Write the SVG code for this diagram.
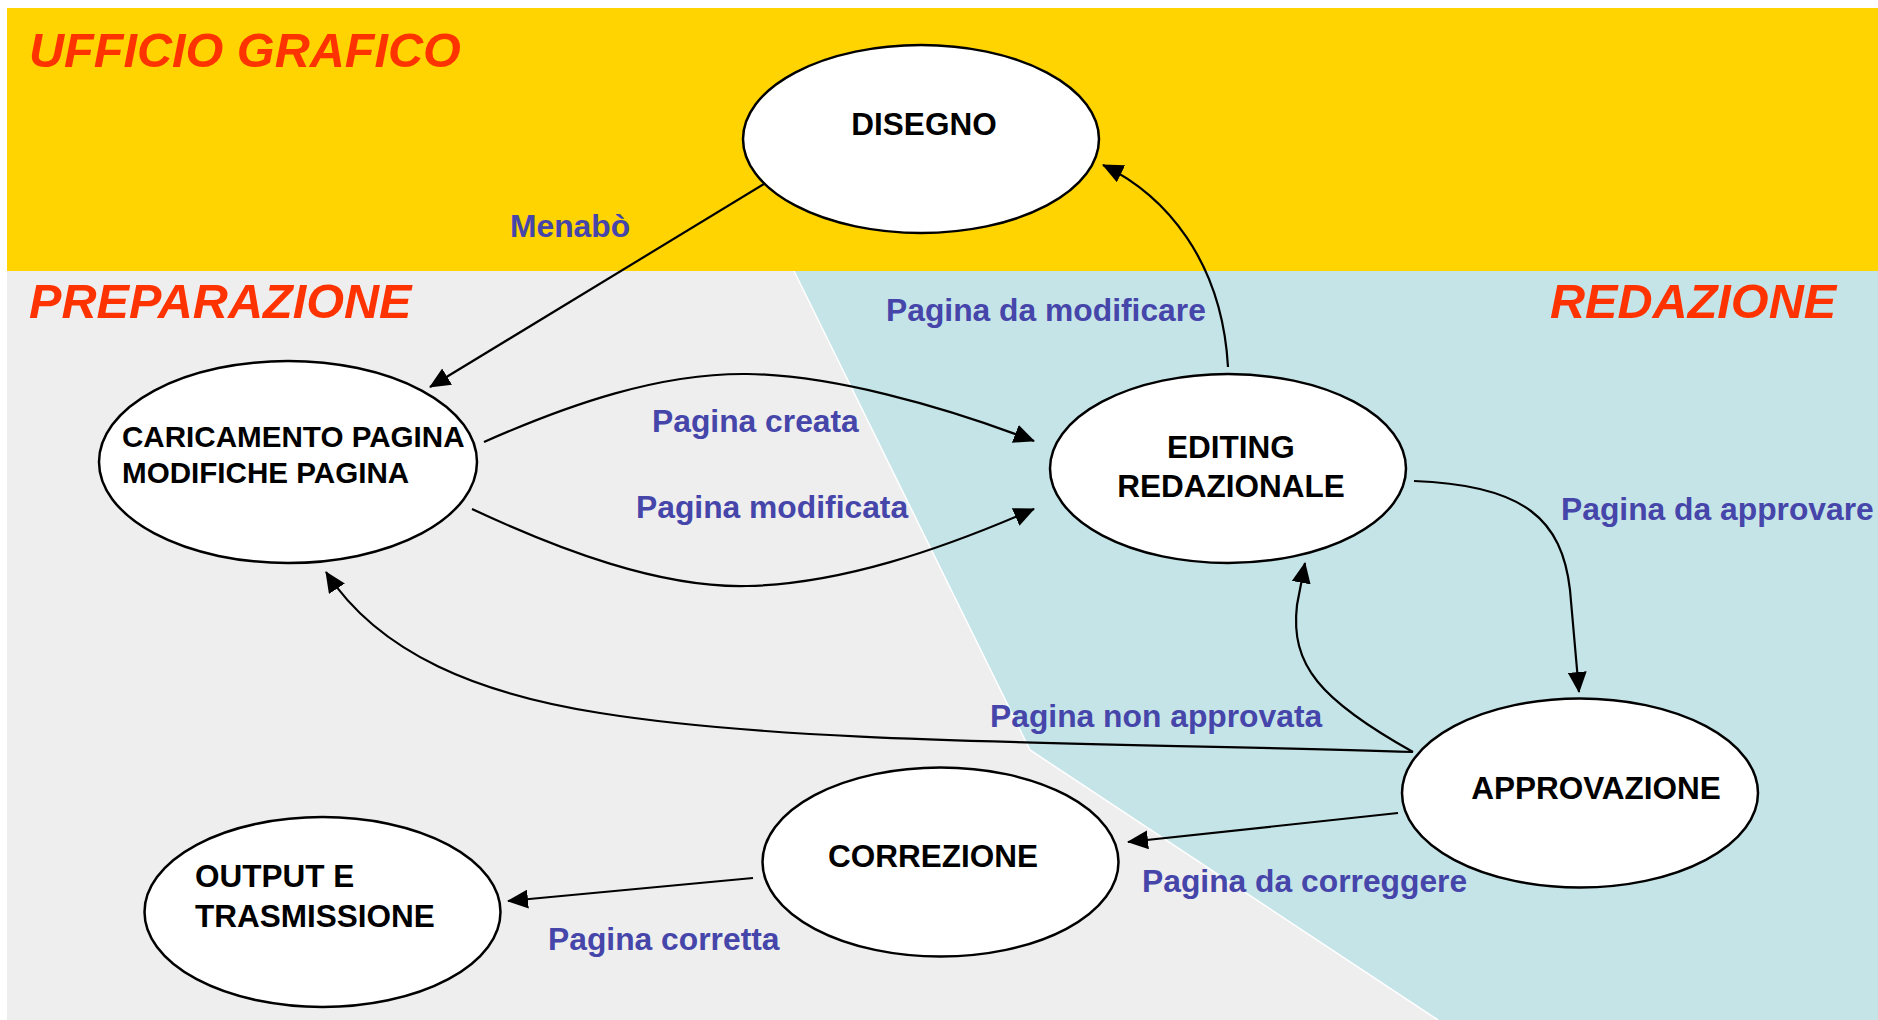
<svg xmlns="http://www.w3.org/2000/svg" width="1878" height="1020" viewBox="0 0 1878 1020">
<defs>
<style>
.node ellipse{fill:#fff;stroke:#000;stroke-width:2.5}
.nt{font-family:"Liberation Sans",Arial,sans-serif;font-weight:bold;font-size:31.5px;fill:#000}
.lbl{font-family:"Liberation Sans",Arial,sans-serif;font-weight:bold;font-size:31.8px;fill:#4545AA}
.ttl{font-family:"Liberation Sans",Arial,sans-serif;font-weight:bold;font-style:italic;font-size:48.6px;fill:#FF3300}
.edge{fill:none;stroke:#000;stroke-width:2.2;marker-end:url(#ah)}
</style>
<marker id="ah" viewBox="0 0 21 19" refX="20" refY="9.5" markerWidth="21" markerHeight="19" markerUnits="userSpaceOnUse" orient="auto">
<path d="M0,0 L21,9.5 L0,19 z" fill="#000"/>
</marker>
</defs>
<rect x="0" y="0" width="1878" height="1020" fill="#fff"/>
<g id="background">
<rect x="7" y="8" width="1871" height="263" fill="#FFD400"/>
<rect x="7" y="271" width="1871" height="749" fill="#EEEEEE"/>
<polygon points="794,271 1030,750 1438,1020 1878,1020 1878,271" fill="#C5E4E8"/>
<polyline points="794,271 1030,750 1438,1020" fill="none" stroke="#fff" stroke-width="1.5"/>
</g>
<g id="titles">
<text class="ttl" x="29" y="67">UFFICIO GRAFICO</text>
<text class="ttl" x="29" y="318">PREPARAZIONE</text>
<text class="ttl" x="1550" y="318">REDAZIONE</text>
</g>
<g id="connectors">
<path id="e-menabo" class="edge" d="M764,184 L430,387"/>
<path id="e-creata" class="edge" d="M484,442 C570,404 660,373 747,374 C830,375 940,405 1034,441"/>
<path id="e-modificata" class="edge" d="M472,509 C560,550 660,588 747,586 C840,584 940,550 1034,509"/>
<path id="e-damodificare" class="edge" d="M1228,367 C1222,260 1165,195 1103,165"/>
<path id="e-daapprovare" class="edge" d="M1414,481 C1525,485 1562,520 1570,590 L1579,692"/>
<path id="e-nonapp-edit" class="edge" d="M1413,752 C1320,700 1290,665 1297,605 L1305,563"/>
<path id="e-nonapp-car" class="edge" d="M1413,752 C1100,742 800,745 600,713 C480,694 380,655 326,572"/>
<path id="e-dacorreggere" class="edge" d="M1398,813 L1128,842"/>
<path id="e-corretta" class="edge" d="M753,878 L508,901"/>
</g>
<g id="labels">
<text class="lbl" x="510" y="237">Menabò</text>
<text class="lbl" x="886" y="321">Pagina da modificare</text>
<text class="lbl" x="652" y="432">Pagina creata</text>
<text class="lbl" x="636" y="518">Pagina modificata</text>
<text class="lbl" x="1561" y="520">Pagina da approvare</text>
<text class="lbl" x="990" y="727">Pagina non approvata</text>
<text class="lbl" x="1142" y="892">Pagina da correggere</text>
<text class="lbl" x="548" y="950">Pagina corretta</text>
</g>
<g id="node-disegno" class="node">
<ellipse cx="921" cy="139" rx="178" ry="94"/>
<text class="nt" x="924" y="135" text-anchor="middle">DISEGNO</text>
</g>
<g id="node-caricamento" class="node">
<ellipse cx="288" cy="462" rx="189" ry="101"/>
<text class="nt" x="122" y="447" style="font-size:29.6px">CARICAMENTO PAGINA</text>
<text class="nt" x="122" y="483" style="font-size:29.6px">MODIFICHE PAGINA</text>
</g>
<g id="node-editing" class="node">
<ellipse cx="1228" cy="468.5" rx="178" ry="94.5"/>
<text class="nt" x="1231" y="458" text-anchor="middle">EDITING</text>
<text class="nt" x="1231" y="497" text-anchor="middle">REDAZIONALE</text>
</g>
<g id="node-approvazione" class="node">
<ellipse cx="1580" cy="793" rx="178" ry="94.5"/>
<text class="nt" x="1596" y="799" text-anchor="middle">APPROVAZIONE</text>
</g>
<g id="node-correzione" class="node">
<ellipse cx="940.5" cy="862" rx="178" ry="94.5"/>
<text class="nt" x="933" y="867" text-anchor="middle">CORREZIONE</text>
</g>
<g id="node-output" class="node">
<ellipse cx="322.5" cy="912" rx="178" ry="95"/>
<text class="nt" x="195" y="887">OUTPUT E</text>
<text class="nt" x="195" y="927">TRASMISSIONE</text>
</g>
</svg>
